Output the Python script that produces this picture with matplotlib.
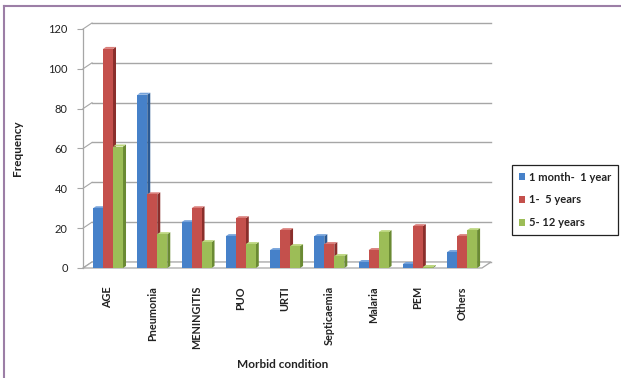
import matplotlib
matplotlib.use("Agg")
from matplotlib import pyplot as plt
from matplotlib.patches import Polygon, Patch
from matplotlib.lines import Line2D

plt.rcParams["font.family"] = ["Lato", "DejaVu Sans"]

conditions = ["AGE", "Pneumonia", "MENINGITIS", "PUO", "URTI",
              "Septicaemia", "Malaria", "PEM", "Others"]
infants = [30, 87, 23, 16, 9, 16, 3, 2, 8]
toddlers = [110, 37, 30, 25, 19, 12, 9, 21, 16]
children = [61, 17, 13, 12, 11, 6, 18, 0.5, 19]
series_labels = ["1 month-  1 year", "1-  5 years", "5- 12 years"]
yticks = [0, 20, 40, 60, 80, 100, 120]

# front, side, top shades for each series
shades = [("#4681c9", "#2b5a93", "#75a2da"),
          ("#c4504c", "#8a2e2b", "#d97d79"),
          ("#9cbd57", "#6a8a33", "#bcd67f")]

W, H = 621, 378
fig = plt.figure(figsize=(W / 100, H / 100), dpi=100)
fig.patch.set_facecolor("white")

# plot area in pixels
x0, x1, ybot, ytop = 83, 482, 268, 29
ax = fig.add_axes([x0 / W, 1 - ybot / H, (x1 - x0) / W, (ybot - ytop) / H])
xmin, xmax = -0.565, 8.45
ax.set_xlim(xmin, xmax)
ax.set_ylim(0, 120)
ax.set_facecolor("none")

px_x = (xmax - xmin) / (x1 - x0)
px_y = 120 / (ybot - ytop)
dx, dy = 9 * px_x, 6 * px_y      # depth of back wall
sx, sy = 3 * px_x, 2 * px_y      # depth of each bar

grid_col = "#a6a6a6"
# back wall gridlines and slanted connectors
for t in yticks:
    ax.plot([xmin + dx, xmax + dx], [t + dy, t + dy], color=grid_col,
            lw=1.0, clip_on=False, zorder=1)
    ax.plot([xmin, xmin + dx], [t, t + dy], color=grid_col, lw=0.8,
            clip_on=False, zorder=1)
# floor
ax.add_patch(Polygon([(xmin, 0), (xmax, 0), (xmax + dx, dy), (xmin + dx, dy)],
                     closed=True, facecolor="white", edgecolor=grid_col,
                     lw=0.9, clip_on=False, zorder=1.5))

w = 0.226
for k, vals in enumerate([infants, toddlers, children]):
    front, side, top = shades[k]
    xs = [i + (k - 1) * w for i in range(len(conditions))]
    z = 3 + k
    for x, v in zip(xs, vals):
        r = x + w / 2
        l = x - w / 2
        ax.add_patch(Polygon([(r, 0), (r + sx, sy), (r + sx, v + sy), (r, v)],
                             closed=True, facecolor=side, edgecolor="none",
                             zorder=z, clip_on=False))
        ax.add_patch(Polygon([(l, v), (r, v), (r + sx, v + sy), (l + sx, v + sy)],
                             closed=True, facecolor=top, edgecolor="none",
                             zorder=z, clip_on=False))
    ax.bar(xs, vals, width=w, color=front, edgecolor="none", zorder=z)

for s in ["top", "right", "bottom"]:
    ax.spines[s].set_visible(False)
ax.spines["left"].set_color(grid_col)
ax.spines["left"].set_linewidth(0.9)
ax.set_yticks(yticks)
ax.tick_params(axis="y", length=4, color=grid_col, labelsize=8,
               labelcolor="#222222", pad=7)
ax.set_xticks(range(len(conditions)))
ax.set_xticklabels(conditions, rotation=90, fontsize=7.8, fontweight="bold",
                   color="#222222", va="top")
ax.tick_params(axis="x", length=0, pad=13)

ax.set_xlabel("Morbid condition", fontsize=8.5, fontweight="bold",
              color="#222222", labelpad=7)
ax.set_ylabel("Frequency", fontsize=8.5, fontweight="bold",
              color="#222222", labelpad=18)

handles = [Patch(facecolor=shades[k][0], edgecolor="none") for k in range(3)]
leg = fig.legend(handles, series_labels, loc="upper left",
                 bbox_to_anchor=(512 / W, 1 - 165 / H), frameon=True,
                 fancybox=False, edgecolor="#222222", framealpha=1,
                 handlelength=0.6, handleheight=0.6, handletextpad=0.3,
                 labelspacing=1.05, borderpad=0.6, borderaxespad=0,
                 prop={"size": 8, "weight": "bold"})
leg.get_frame().set_linewidth(0.9)
for t in leg.get_texts():
    t.set_color("#222222")

# outer frame (top and left edges)
frame_col = "#9c7ea6"
fig.add_artist(Line2D([4 / W, 4 / W], [0, 1 - 6 / H], color=frame_col, lw=1.5,
                      transform=fig.transFigure))
fig.add_artist(Line2D([4 / W, 1], [1 - 6 / H, 1 - 6 / H], color=frame_col, lw=1.5,
                      transform=fig.transFigure))

fig.savefig("out.png", dpi=100)
